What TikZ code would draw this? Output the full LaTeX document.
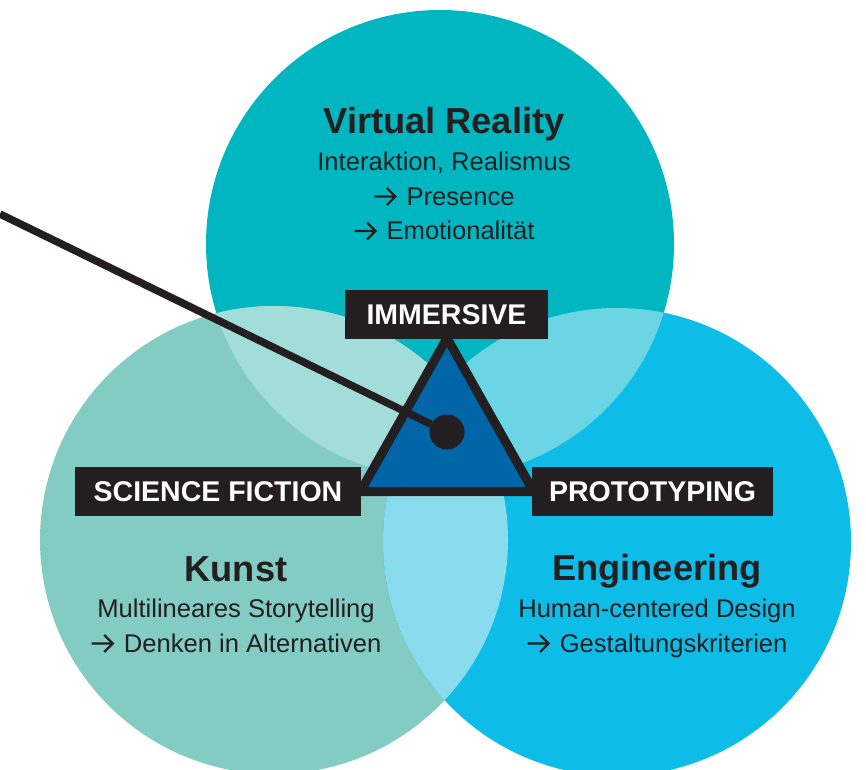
\documentclass[tikz,border=0pt]{standalone}
\usepackage{fontspec}
\setmainfont{Liberation Sans}
\definecolor{ink}{HTML}{231F20}
\definecolor{cT}{HTML}{00B6C1}
\definecolor{cL}{HTML}{83CCC3}
\definecolor{cR}{HTML}{0DBDE8}
\definecolor{cTL}{HTML}{A2DDDA}
\definecolor{cTR}{HTML}{6BD5E3}
\definecolor{cLR}{HTML}{89DCEE}
\definecolor{cTri}{HTML}{0066A8}
\newcommand{\myarr}{\tikz[baseline=0pt,x=1pt,y=1pt]{\draw[ink, line width=2.2pt, line join=miter] (0,8.5)--(21,8.5) (12.5,17)--(21,8.5)--(12.5,0);}\hspace{10pt}}
\tikzset{
  lbl/.style={fill=ink, text=white, font=\fontsize{28.5}{30}\selectfont\bfseries, inner sep=0pt, text height=20.5pt, text depth=0pt, minimum height=49pt},
  ttl/.style={anchor=base, text=ink, font=\fontsize{36.2}{38}\selectfont\bfseries, inner sep=0pt},
  sub/.style={anchor=base, text=ink, font=\fontsize{25.6}{27}\selectfont, inner sep=0pt},
  tri/.style={draw=ink, fill=cTri, line width=9pt, line join=miter},
  conn/.style={draw=ink, line width=7.5pt},
}
\begin{document}
\begin{tikzpicture}[x=1pt,y=-1pt]
\useasboundingbox (0,0) rectangle (866,769);
\coordinate (T) at (440,244);
\coordinate (L) at (274,540);
\coordinate (R) at (617,542);
% circles
\fill[cT] (T) circle[radius=234pt];
\fill[cL] (L) circle[radius=234pt];
\fill[cR] (R) circle[radius=234pt];
% overlaps
\begin{scope}
  \clip (T) circle[radius=234pt];
  \fill[cTL] (L) circle[radius=234pt];
  \fill[cTR] (R) circle[radius=234pt];
\end{scope}
\begin{scope}
  \clip (L) circle[radius=234pt];
  \fill[cLR] (R) circle[radius=234pt];
\end{scope}
% triangle
\coordinate (apex) at (447,338);
\coordinate (bl) at (360.4,491.5);
\coordinate (br) at (533.6,491.5);
\draw[tri] (apex) -- (br) -- (bl) -- cycle;
% connector and dot
\node[circle, fill=ink, minimum size=35pt, inner sep=0pt] (dot) at (447,432) {};
\coordinate (start) at (0,214);
\draw[conn] (start) -- (dot);
% labels
\node[lbl, minimum width=203pt] (immersive) at (446.5,314) {IMMERSIVE};
\node[lbl, minimum width=286pt] (scifi) at (218,491.5) {SCIENCE FICTION};
\node[lbl, minimum width=241pt] (proto) at (652.5,491.5) {PROTOTYPING};
% top text
\node[ttl] (vr) at (444,133) {Virtual Reality};
\node[sub] (vr1) at (444,170) {Interaktion, Realismus};
\node[sub] (vr2) at (444,205) {\myarr Presence};
\node[sub] (vr3) at (444,239.5) {\myarr Emotionalität};
% left text
\node[ttl] (ku) at (236,581) {Kunst};
\node[sub] (ku1) at (236,617) {Multilineares Storytelling};
\node[sub] (ku2) at (236,652) {\myarr Denken in Alternativen};
% right text
\node[ttl] (en) at (657,580.5) {Engineering};
\node[sub] (en1) at (657,617) {Human-centered Design};
\node[sub] (en2) at (657,652) {\myarr Gestaltungskriterien};
\end{tikzpicture}
\end{document}
